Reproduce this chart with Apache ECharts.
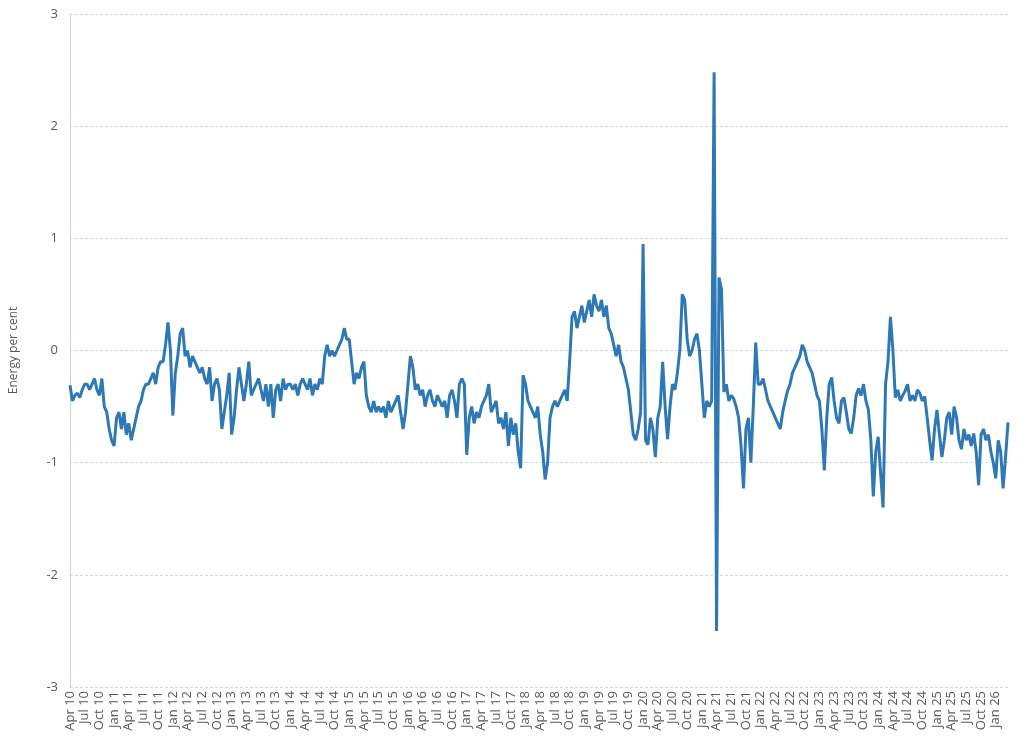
<!DOCTYPE html>
<html>
<head>
<meta charset="utf-8">
<script src="https://cdn.jsdelivr.net/npm/echarts@6/dist/echarts.min.js"></script>
<style>
  body { margin: 0; background: #fff; }
  #chart { width: 1035px; height: 748px; }
</style>
</head>
<body>
<div id="chart"></div>
<script>
// half-monthly readings, Apr 2010 .. Mar 2026
var y2010 = [-0.31,-0.45,-0.4,-0.38,-0.42,-0.35,-0.3,-0.3,-0.35,-0.3,-0.25,-0.35,-0.4,-0.25,-0.5,-0.55,-0.7,-0.8];
var y2011 = [-0.85,-0.6,-0.55,-0.7,-0.55,-0.75,-0.65,-0.8,-0.7,-0.6,-0.5,-0.45,-0.35,-0.3,-0.3,-0.25,-0.2,-0.3,-0.15,-0.1,-0.1,0.05,0.25,0.0];
var y2012 = [-0.58,-0.2,-0.05,0.15,0.2,-0.05,0.0,-0.15,-0.05,-0.1,-0.15,-0.2,-0.15,-0.25,-0.3,-0.15,-0.45,-0.3,-0.25,-0.35,-0.7,-0.55,-0.4,-0.2];
var y2013 = [-0.75,-0.6,-0.35,-0.15,-0.3,-0.45,-0.3,-0.1,-0.4,-0.35,-0.3,-0.25,-0.35,-0.45,-0.3,-0.5,-0.3,-0.6,-0.35,-0.3,-0.45,-0.25,-0.35,-0.3];
var y2014 = [-0.3,-0.35,-0.3,-0.4,-0.3,-0.25,-0.3,-0.35,-0.25,-0.4,-0.3,-0.35,-0.25,-0.3,-0.05,0.05,-0.05,0.0,-0.05,0.0,0.05,0.1,0.2,0.1];
var y2015 = [0.1,-0.1,-0.3,-0.2,-0.25,-0.15,-0.1,-0.4,-0.5,-0.55,-0.45,-0.55,-0.5,-0.55,-0.5,-0.6,-0.45,-0.55,-0.5,-0.45,-0.4,-0.55,-0.7,-0.55];
var y2016 = [-0.3,-0.05,-0.15,-0.35,-0.3,-0.4,-0.35,-0.5,-0.4,-0.35,-0.45,-0.5,-0.4,-0.45,-0.5,-0.45,-0.6,-0.4,-0.35,-0.45,-0.6,-0.3,-0.25,-0.3];
var y2017 = [-0.93,-0.6,-0.5,-0.65,-0.55,-0.6,-0.5,-0.45,-0.4,-0.3,-0.55,-0.5,-0.45,-0.65,-0.6,-0.7,-0.55,-0.85,-0.6,-0.75,-0.65,-0.9,-1.05,-0.22];
var y2018 = [-0.3,-0.45,-0.5,-0.55,-0.6,-0.5,-0.75,-0.9,-1.15,-1.0,-0.6,-0.5,-0.45,-0.5,-0.45,-0.4,-0.35,-0.45,-0.1,0.3,0.35,0.2,0.3,0.4];
var y2019 = [0.25,0.35,0.45,0.3,0.5,0.4,0.35,0.45,0.3,0.4,0.2,0.15,0.05,-0.05,0.05,-0.1,-0.15,-0.25,-0.35,-0.55,-0.75,-0.8,-0.7,-0.55];
var y2020 = [0.95,-0.8,-0.84,-0.6,-0.7,-0.95,-0.6,-0.5,-0.1,-0.5,-0.79,-0.5,-0.3,-0.35,-0.2,0.0,0.5,0.45,0.1,-0.05,0.0,0.1,0.15,0.0];
var y2021 = [-0.3,-0.6,-0.45,-0.5,-0.45,2.48,-2.5,0.65,0.55,-0.37,-0.3,-0.45,-0.4,-0.43,-0.5,-0.6,-0.85,-1.23,-0.7,-0.6,-1.0,-0.5,0.07,-0.3];
var y2022 = [-0.3,-0.25,-0.35,-0.45,-0.5,-0.55,-0.6,-0.65,-0.7,-0.55,-0.45,-0.36,-0.3,-0.2,-0.15,-0.1,-0.05,0.05,0.0,-0.1,-0.15,-0.2,-0.3,-0.4];
var y2023 = [-0.45,-0.7,-1.07,-0.6,-0.3,-0.24,-0.45,-0.6,-0.65,-0.45,-0.42,-0.55,-0.7,-0.74,-0.6,-0.4,-0.34,-0.4,-0.3,-0.45,-0.53,-0.8,-1.3,-0.9];
var y2024 = [-0.77,-1.1,-1.4,-0.3,-0.1,0.3,0.0,-0.42,-0.35,-0.45,-0.4,-0.36,-0.3,-0.45,-0.4,-0.45,-0.35,-0.38,-0.45,-0.41,-0.6,-0.8,-0.98,-0.7];
var y2025 = [-0.53,-0.75,-0.95,-0.8,-0.6,-0.55,-0.75,-0.5,-0.6,-0.8,-0.88,-0.7,-0.8,-0.75,-0.85,-0.74,-0.9,-1.2,-0.75,-0.7,-0.8,-0.75,-0.9,-1.0];
var y2026 = [-1.14,-0.8,-0.9,-1.23,-0.95,-0.64];

var values = [].concat(y2010, y2011, y2012, y2013, y2014, y2015, y2016, y2017,
  y2018, y2019, y2020, y2021, y2022, y2023, y2024, y2025, y2026);

var MONTHS = ["Jan","Feb","Mar","Apr","May","Jun","Jul","Aug","Sep","Oct","Nov","Dec"];
var categories = [];
for (var i = 0; i < values.length; i++) {
  var m = 3 + Math.floor(i / 2);
  var yr = 10 + Math.floor(m / 12);
  categories.push(MONTHS[m % 12] + " " + yr);
}

var chart = echarts.init(document.getElementById("chart"));
var option = {
  animation: false,
  grid: { left: 69, right: 27, top: 14, bottom: 61 },
  xAxis: {
    type: "category",
    data: categories,
    boundaryGap: false,
    axisLine: { show: false },
    axisTick: { show: false },
    axisLabel: {
      interval: 5,
      rotate: 90,
      margin: 4,
      color: "#595959",
      fontSize: 13,
      fontFamily: "Open Sans",
    },
    splitLine: { show: false },
  },
  yAxis: {
    type: "value",
    min: -3,
    max: 3,
    interval: 1,
    name: "Energy per cent",
    nameLocation: "middle",
    nameGap: 50,
    nameTextStyle: { color: "#595959", fontSize: 12, fontFamily: "Open Sans" },
    axisLine: { show: true, lineStyle: { color: "#c8d4e8" } },
    axisTick: { show: false },
    axisLabel: { color: "#595959", fontSize: 13, fontFamily: "Open Sans", margin: 12 },
    splitLine: { lineStyle: { color: "#cbd6e8", type: [3, 2], width: 1 } },
  },
  series: [
    {
      type: "line",
      data: values,
      showSymbol: false,
      lineStyle: { color: "#2e79b5", width: 3 },
    },
  ],
};
chart.setOption(option);
</script>
</body>
</html>
